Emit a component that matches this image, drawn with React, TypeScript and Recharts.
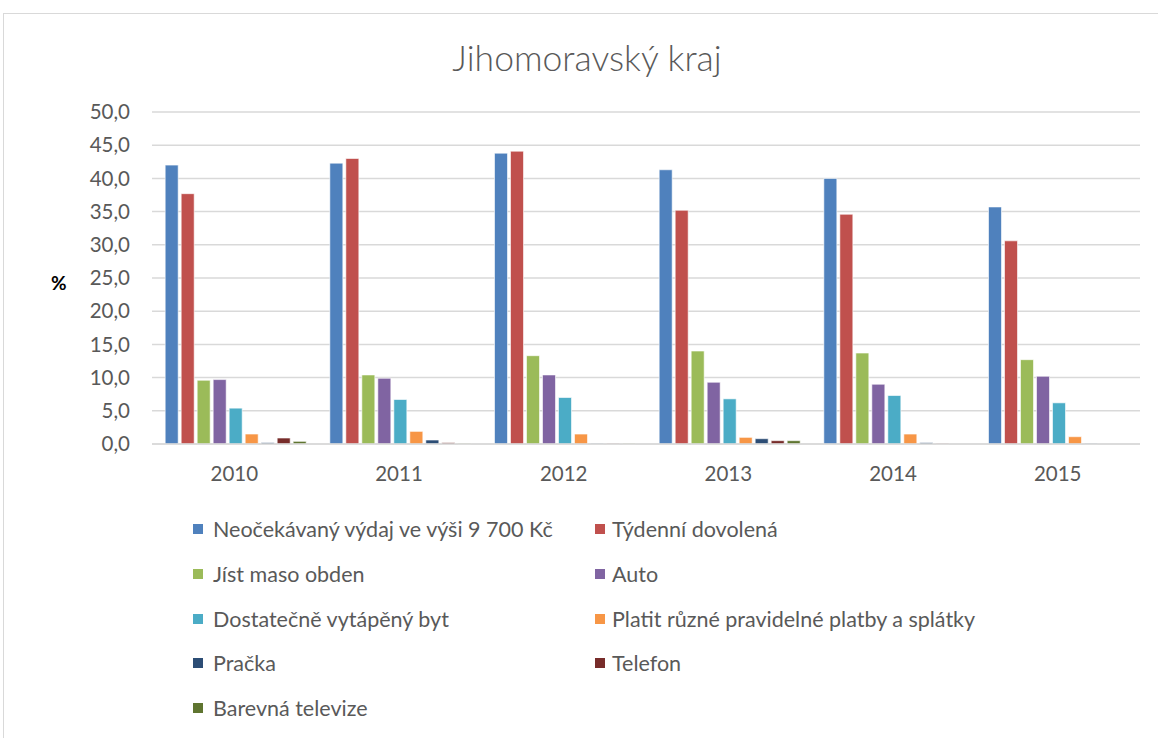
import { Bar, BarChart, CartesianGrid, XAxis, YAxis } from "recharts";

const years = ["2010", "2011", "2012", "2013", "2014", "2015"];

const seriesNames = [
  "Neočekávaný výdaj ve výši 9 700 Kč",
  "Týdenní dovolená",
  "Jíst maso obden",
  "Auto",
  "Dostatečně vytápěný byt",
  "Platit různé pravidelné platby a splátky",
  "Pračka",
  "Telefon",
  "Barevná televize",
];

const colors = [
  "#4f81bd",
  "#c0504d",
  "#9bbb59",
  "#8064a2",
  "#4bacc6",
  "#f79646",
  "#2c4d75",
  "#772c2a",
  "#5f7530",
];

const vydaj = [42.0, 42.3, 43.8, 41.3, 40.0, 35.7];
const dovolena = [37.7, 43.0, 44.1, 35.2, 34.6, 30.6];
const maso = [9.6, 10.4, 13.3, 14.0, 13.7, 12.7];
const auto = [9.7, 9.9, 10.4, 9.3, 9.0, 10.2];
const byt = [5.4, 6.7, 7.0, 6.8, 7.3, 6.2];
const platby = [1.5, 1.9, 1.5, 1.0, 1.5, 1.1];
const pracka = [0.2, 0.6, 0.1, 0.8, 0.2, 0.1];
const telefon = [0.9, 0.2, 0.1, 0.5, 0.1, 0.0];
const televize = [0.4, 0.1, 0.1, 0.5, 0.0, 0.0];

const yTicks = [0, 5, 10, 15, 20, 25, 30, 35, 40, 45, 50];

const allSeries = [vydaj, dovolena, maso, auto, byt, platby, pracka, telefon, televize];

const data = years.map((year, i) => {
  const row: Record<string, string | number> = { year };
  allSeries.forEach((s, k) => {
    row["s" + k] = s[i];
  });
  return row;
});

const font = "Lato, 'Open Sans', sans-serif";

function LegendBlock() {
  return (
    <div
      style={{
        position: "absolute",
        left: 193,
        top: 507,
        display: "grid",
        gridTemplateColumns: "402px 440px",
        fontFamily: font,
        fontSize: 21.5,
        color: "#595959",
      }}
    >
      {seriesNames.map((name, i) => (
        <div
          key={name}
          style={{ display: "flex", alignItems: "center", height: 44.7, whiteSpace: "nowrap" }}
        >
          <span
            style={{
              width: 10,
              height: 10,
              background: colors[i],
              marginRight: i % 2 === 0 ? 10 : 7,
              display: "inline-block",
              flexShrink: 0,
            }}
          />
          {name}
        </div>
      ))}
    </div>
  );
}

export default function App() {
  return (
    <div
      style={{
        position: "absolute",
        left: 0,
        top: 0,
        width: 1158,
        height: 738,
        background: "#fff",
        overflow: "hidden",
      }}
    >
      <div
        style={{
          position: "absolute",
          left: 3,
          top: 13,
          width: 1170,
          height: 740,
          border: "1px solid #d9d9d9",
        }}
      />
      <div
        style={{
          position: "absolute",
          top: 36,
          left: 0,
          width: 1174,
          textAlign: "center",
          fontFamily: font,
          fontWeight: 300,
          fontSize: 35.5,
          color: "#595959",
        }}
      >
        Jihomoravský kraj
      </div>
      <div
        style={{
          position: "absolute",
          left: 51,
          top: 271,
          fontFamily: font,
          fontWeight: 700,
          fontSize: 19,
          color: "#000",
        }}
      >
        %
      </div>
      <BarChart
        width={1158}
        height={738}
        data={data}
        margin={{ top: 112, right: 18, left: 0, bottom: 0 }}
        barCategoryGap="8%"
        barGap={3}
      >
        <CartesianGrid vertical={false} stroke="#d9d9d9" strokeWidth={1.5} />
        <XAxis
          dataKey="year"
          height={294}
          axisLine={{ stroke: "#d9d9d9", strokeWidth: 1.5 }}
          tickLine={false}
          tickSize={8}
          tickMargin={14}
          tick={{ fontFamily: font, fontSize: 20.5, fill: "#595959" }}
        />
        <YAxis
          width={152}
          domain={[0, 50]}
          ticks={yTicks}
          interval={0}
          axisLine={false}
          tickLine={false}
          tickSize={8}
          tickMargin={14}
          tickFormatter={(v: number) => v.toFixed(1).replace(".", ",")}
          tick={{ fontFamily: font, fontSize: 20.5, fill: "#595959" }}
        />
        {seriesNames.map((name, k) => (
          <Bar
            key={name}
            dataKey={"s" + k}
            name={name}
            fill={colors[k]}
            stroke="#ffffff"
            strokeWidth={0.6}
            isAnimationActive={false}
          />
        ))}
      </BarChart>
      <LegendBlock />
    </div>
  );
}
